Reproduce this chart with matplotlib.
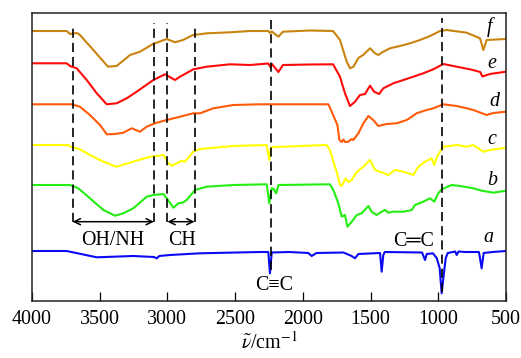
import matplotlib
matplotlib.use("Agg")
import matplotlib.pyplot as plt
import numpy as np

# ---------------- data (wavenumber in cm^-1, transmittance in offset a.u.) -------------
wn_f = [4000, 3744, 3719, 3668, 3646, 3547, 3439, 3375, 3276, 3202, 3107, 3005, 2944, 2885,
        2811, 2708, 2538, 2390, 2255, 2243, 2230, 2181, 2147, 1950, 1777, 1726, 1676, 1652,
        1627, 1590, 1555, 1504, 1467, 1443, 1406, 1357, 1283, 1209, 1135, 1061, 987, 938,
        790, 692, 667, 643, 544, 500]
tr_f = [269, 269, 266, 267, 265, 250, 233.3, 234, 245, 248.3, 256, 261, 257.7, 260,
        265, 266.7, 267.7, 269, 269, 267, 268.5, 263.3, 268.3, 269.5, 269, 260, 238.3, 231.7,
        233.3, 242, 245, 251.7, 246.7, 245, 248.3, 251.7, 254, 256.7, 260, 264, 269, 270,
        267.3, 261.7, 250, 260, 260.7, 261]

wn_e = [4000, 3744, 3719, 3670, 3596, 3522, 3448, 3375, 3301, 3227, 3104, 3018, 2944, 2907,
        2809, 2710, 2538, 2390, 2255, 2240, 2228, 2181, 2147, 1950, 1777, 1726, 1689, 1652,
        1615, 1578, 1541, 1504, 1474, 1437, 1406, 1332, 1258, 1184, 1111, 1037, 963, 864,
        766, 690, 675, 618, 500]
tr_e = [236.7, 236.7, 234, 231.7, 220, 206.7, 195.7, 196.7, 201.7, 208.3, 220, 225.7, 220, 223.3,
        230.7, 233.3, 235.7, 235, 236.5, 233, 236, 228, 235, 235.5, 235.7, 223.3, 206.7, 194,
        198.3, 205, 206, 214.3, 208.3, 206, 211.7, 216.7, 220, 223.3, 226.7, 230.7, 236, 233.3,
        230.7, 228, 223.5, 226, 228.3]

wn_d = [4000, 3707, 3646, 3572, 3498, 3448, 3387, 3326, 3264, 3203, 3153, 3092, 3005, 2907,
        2809, 2760, 2661, 2514, 2316, 1812, 1787, 1745, 1730, 1713, 1700, 1689, 1664, 1640,
        1627, 1590, 1553, 1516, 1480, 1443, 1381, 1307, 1233, 1196, 1160, 1086, 1037, 963,
        864, 790, 741, 643, 593, 500]
tr_d = [195.7, 195.7, 193.3, 185, 175, 165.7, 166, 167.3, 171.7, 168.3, 173.3, 176.7, 180, 183.3,
        186.7, 186.7, 191.7, 195, 195.7, 195.7, 188.3, 175, 160, 158, 160.5, 158, 158.3, 161,
        160, 166.7, 176.7, 184, 180, 174, 176, 176.7, 180, 183.3, 186.7, 190, 191.7, 195.7,
        194, 191.7, 190, 185, 187, 188.3]

wn_c = [4000, 3732, 3715, 3646, 3572, 3473, 3375, 3252, 3129, 3079, 3030, 2993, 2968, 2931,
        2895, 2870, 2809, 2760, 2514, 2267, 2248, 2236, 2223, 2150, 1824, 1800, 1763, 1750,
        1726, 1713, 1684, 1664, 1640, 1602, 1553, 1504, 1467, 1430, 1369, 1320, 1258, 1184,
        1147, 1098, 1049, 1030, 1010, 963, 913, 864, 790, 741, 667, 618, 500]
tr_c = [155, 155, 153.3, 150.7, 145, 138.3, 133.3, 138.3, 143.3, 144, 145, 136.7, 134.3, 136.7,
        139.3, 138.3, 148.3, 151, 154, 155, 140, 152, 153, 153.3, 155, 150, 133.3, 128,
        115, 114, 121.7, 118, 120, 128, 133.3, 140, 130, 128.3, 125, 130, 128.3, 125,
        133.3, 138.3, 141.7, 135, 143.3, 153.3, 154, 155, 153.3, 155, 148.3, 150, 152.3]

wn_b = [4000, 3720, 3658, 3572, 3473, 3387, 3326, 3252, 3153, 3104, 3030, 3005, 2956, 2920,
        2888, 2858, 2796, 2710, 2514, 2267, 2248, 2230, 2215, 2198, 2180, 1800, 1775, 1738,
        1713, 1689, 1671, 1639, 1602, 1566, 1516, 1492, 1455, 1418, 1393, 1369, 1332, 1258,
        1196, 1172, 1111, 1061, 1030, 1000, 975, 901, 840, 741, 680, 593, 500]
tr_b = [115, 115, 111.7, 101.7, 90, 84.3, 86.7, 91.7, 103.3, 105, 106, 101.7, 92.3, 96.7,
        97.3, 100, 110, 113.3, 115, 115.7, 96.7, 111.7, 111, 106.7, 115, 115.7, 110, 96.7,
        83.3, 85, 73.3, 78.3, 85, 86.7, 94, 88.3, 85, 88.3, 90, 87.3, 88.3, 88.3,
        90, 95, 98.3, 101.7, 98.3, 106.7, 110.7, 115, 114, 111.7, 109.3, 107.3, 109.3]

wn_a = [4000, 3744, 3522, 3252, 3100, 3079, 3060, 2981, 2760, 2316, 2255, 2243, 2230, 2100,
        1960, 1935, 1900, 1700, 1640, 1615, 1590, 1430, 1418, 1406, 1395, 1120, 1098, 1085,
        1040, 1012, 990, 975, 960, 945, 930, 875, 864, 850, 800, 700, 692, 680, 665, 600, 500]
tr_a = [49, 49, 42.7, 44, 43, 41.7, 44, 45, 46.7, 48, 48, 26.7, 47.5, 48,
        47, 44, 47, 47.5, 44, 41.7, 46, 47, 28.3, 45, 48, 47.5, 40, 46,
        46.7, 42, 32, 6.7, 25, 42, 47, 48.5, 45, 48.5, 48, 48, 42, 31.7, 47, 48, 49]

series_names = ["a", "b", "c", "d", "e", "f"]
series_wn = [wn_a, wn_b, wn_c, wn_d, wn_e, wn_f]
series_tr = [tr_a, tr_b, tr_c, tr_d, tr_e, tr_f]
series_colors = ["#0A0AF5", "#22EE11", "#FFFF00", "#FF5A0A", "#FF0A0A", "#C8840E"]

marker_wn = [3700, 3100, 3000, 2800, 2235, 970]
marker_span = [(78, 276), (78, 277), (78, 277), (78, 275), (30, 281), (8, 282)]

x_ticks = [4000, 3500, 3000, 2500, 2000, 1500, 1000, 500]

# ---------------- plotting ---------------------------------------------------------------
plt.rcParams['font.family'] = ['Liberation Serif', 'DejaVu Serif']
plt.rcParams['mathtext.fontset'] = 'stix'

fig = plt.figure(figsize=(5.21, 3.58), dpi=100)
ax = fig.add_axes([32 / 521, 1 - 300.6 / 358, (506 - 32) / 521, (300.6 - 13) / 358])

for wn, tr, col in zip(series_wn, series_tr, series_colors):
    ax.plot(wn, tr, color=col, lw=1.5, solid_joinstyle='round')

for w, (y0, y1) in zip(marker_wn, marker_span):
    ax.plot([w, w], [y0, y1], color='black', lw=1.2, linestyle=(0, (5.5, 3)))

# arrows
ax.annotate('', xy=(3700, 78.3), xytext=(3100, 78.3),
            arrowprops=dict(arrowstyle='<->', lw=1.1, color='black', shrinkA=0, shrinkB=0,
                            mutation_scale=11))
ax.annotate('', xy=(3000, 78.3), xytext=(2800, 78.3),
            arrowprops=dict(arrowstyle='<->', lw=1.1, color='black', shrinkA=0, shrinkB=0,
                            mutation_scale=11))

fs = 14.4
ax.text(3402, 60, 'OH/NH', ha='center', va='center', fontsize=fs)
ax.text(2892, 60, 'CH', ha='center', va='center', fontsize=fs)
ax.text(2213, 14.3, 'C\u2261C', ha='center', va='center', fontsize=fs,
        family=['Liberation Serif', 'DejaVu Serif'])
ax.text(1179, 59, 'C\u2550C', ha='center', va='center', fontsize=fs,
        family=['Liberation Serif', 'DejaVu Sans'])

label_pos = {"a": (633, 63), "b": (603, 120), "c": (606, 161),
             "d": (589, 199), "e": (606, 237), "f": (618, 273)}
for name in series_names:
    x, y = label_pos[name]
    ax.text(x, y, name, ha='center', va='center', fontsize=fs, style='italic')

ax.set_xlim(4000, 500)
ax.set_ylim(-0.6, 287)
ax.set_xticks(x_ticks)
ax.set_xticklabels([str(t) for t in x_ticks])
ax.set_yticks([])
ax.tick_params(axis='x', direction='in', length=6.5, width=0.9, labelsize=fs, pad=7)
for s in ax.spines.values():
    s.set_linewidth(1.1)
    s.set_color('#222222')

ax.set_xlabel(r'$\tilde{\nu}$/cm$^{-1}$', fontsize=fs, labelpad=2)

fig.savefig('out.png', dpi=100)
